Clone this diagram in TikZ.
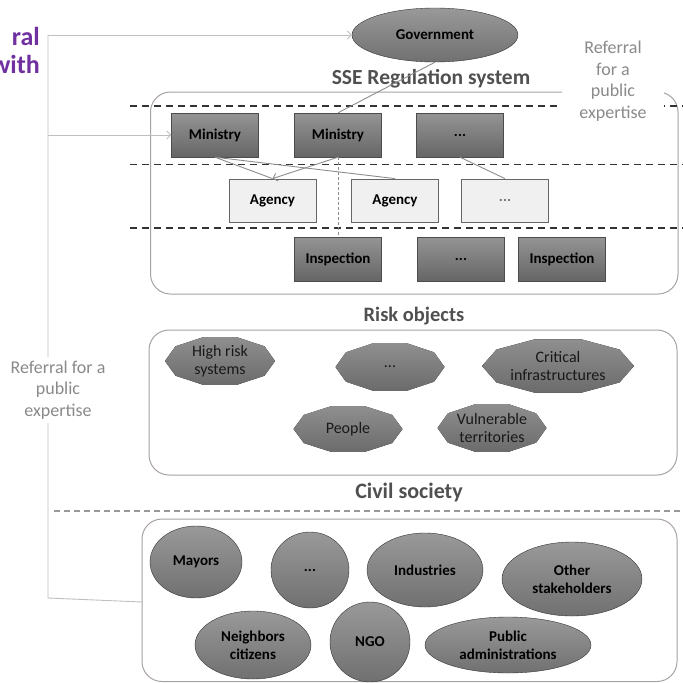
\documentclass[tikz,border=0pt]{standalone}
\usepackage{fontspec}
\setmainfont{Carlito}
\usetikzlibrary{arrows.meta,shapes.geometric}

\definecolor{capviolet}{HTML}{7030A0}
\definecolor{linkgray}{HTML}{8C8C8C}
\definecolor{framegray}{HTML}{A8A2A0}
\definecolor{notegray}{HTML}{8A8A8A}
\definecolor{titlegray}{HTML}{505050}

\newcommand\fsz[2]{\fontsize{#1}{#2}\selectfont}
% risk object: name, x, y, half width, half height, text
\newcommand\riskobj[6]{%
  \fill[riskfill] plot[samples=11,domain=0:360] ({#2+#4*cos(\x)},{#3+#5*sin(\x)}) -- cycle;
  \node[risktext] (#1) at (#2,#3) {#6};}

\begin{document}
\begin{tikzpicture}[x=1pt,y=-1pt,
  darkbox/.style={draw=black!70,top color=black!42,bottom color=black!60,minimum width=87pt,minimum height=44pt,font=\fsz{15}{18}\bfseries},
  lightbox/.style={draw=black!60,fill=black!6,line width=0.8pt,minimum width=87pt,minimum height=43pt,font=\fsz{15}{18}\bfseries},
  stakeholder/.style={ellipse,draw=black!80,top color=black!40,bottom color=black!56,inner sep=0pt,align=center,font=\fsz{15}{18}\bfseries},
  riskfill/.style={top color=black!44,bottom color=black!58},
  risktext/.style={align=center,text=black!90,font=\fsz{16}{18}},
  frame/.style={draw=framegray,line width=1pt,rounded corners=20pt},
  layer/.style={draw=black!80,line width=1.6pt,dash pattern=on 7pt off 5pt},
  link/.style={draw=linkgray,line width=0.9pt},
  referral/.style={draw=black!25,line width=0.9pt},
  note/.style={fill=white,text=notegray,align=center,font=\fsz{18}{21.5}},
  title/.style={text=titlegray,font=\fsz{20.5}{24}\bfseries},
  caption/.style={text=capviolet,inner sep=0pt,align=right,font=\fsz{26}{28}\bfseries},
  >={Straight Barb[length=4pt,width=8pt]}]
\useasboundingbox (0,0) rectangle (683,683);
\clip (0,0) rectangle (683,683);
% caption cut by the page edge
\node[caption,anchor=east] (cap) at (40,50) {ral\\with};
% frames and layers
\draw[frame] (150.5,92) rectangle (678,294);
\draw[frame] (149,330) rectangle (677,475);
\draw[frame] (142,519) rectangle (677,681.5);
\foreach \y in {106,164.5,228} \draw[layer] (130,\y) -- (683,\y);
\draw[layer,draw=black!40,line width=1.3pt,dash pattern=on 6pt off 4pt] (54,511) -- (683,511);
\node[title,font=\fsz{21.5}{25}\bfseries] (sse) at (431,79) {SSE Regulation system};
\node[title] (risk) at (414,316) {Risk objects};
\node[title,font=\fsz{22}{26}\bfseries] (civil) at (409,493) {Civil society};
% regulation system
\node[stakeholder,minimum width=166pt,minimum height=54pt] (gov) at (435,35) {Government};
\node[darkbox] (min1) at (215,135) {Ministry};
\node[darkbox] (min2) at (338,135) {Ministry};
\node[darkbox] (min3) at (460,135) {...};
\node[lightbox] (ag1) at (272.5,200.5) {Agency};
\node[lightbox] (ag2) at (395,200.5) {Agency};
\node[lightbox,text=black!55] (ag3) at (505,200.5) {...};
\node[darkbox] (ins1) at (338,259) {Inspection};
\node[darkbox] (ins2) at (461,259) {...};
\node[darkbox] (ins3) at (562,259) {Inspection};
\draw[link] (gov.south) -- (min2.north);
\draw[link] (min1.south) -- (ag1.north);
\draw[link] (min1.south) -- (ag2.north);
\draw[link,->] (min2.south) -- (ag1.north);
\draw[link] (min3.south) -- (ag3.north);
\draw[link,densely dashed,line width=0.6pt] (min2.south) -- (ins1.north);
% risk objects
\riskobj{high}{220}{361}{55}{25}{High risk\\systems}
\riskobj{riskdots}{390}{367}{54.5}{25}{...}
\riskobj{critical}{558}{366}{76}{28}{Critical\\infrastructures}
\riskobj{people}{348}{429}{54.5}{24}{People}
\riskobj{vulnerable}{492}{428}{54.5}{25}{Vulnerable\\territories}
% civil society
\node[stakeholder,minimum width=92pt,minimum height=72pt] (mayors) at (196,562) {Mayors};
\node[stakeholder,minimum width=78pt,minimum height=76pt] (civdots) at (310,570) {...};
\node[stakeholder,minimum width=116pt,minimum height=74pt] (industries) at (425,570) {Industries};
\node[stakeholder,minimum width=140pt,minimum height=74pt] (others) at (572,579) {Other\\stakeholders};
\node[stakeholder,minimum width=116pt,minimum height=68pt] (neighbors) at (253,645) {Neighbors\\citizens};
\node[stakeholder,minimum width=80pt,minimum height=80pt] (ngo) at (370,642) {NGO};
\node[stakeholder,minimum width=166pt,minimum height=56pt] (public) at (508,645) {Public\\administrations};
% referral for a public expertise
\coordinate (rtop) at (48,35);
\coordinate (rmid) at (48,135);
\coordinate (rlow) at (48,598);
\coordinate (rend) at (142,602);
\draw[referral,->] (rtop) -- (gov.west);
\draw[referral,->] (rmid) -- (min1.west);
\draw[referral] (rtop) -- (rlow) -- (rend);
\node[note] (lnote) at (58,390) {Referral for a\\public\\expertise};
\node[note,minimum width=102pt,minimum height=90pt] (rnote) at (613,81) {Referral\\for a\\public\\expertise};
\end{tikzpicture}
\end{document}
